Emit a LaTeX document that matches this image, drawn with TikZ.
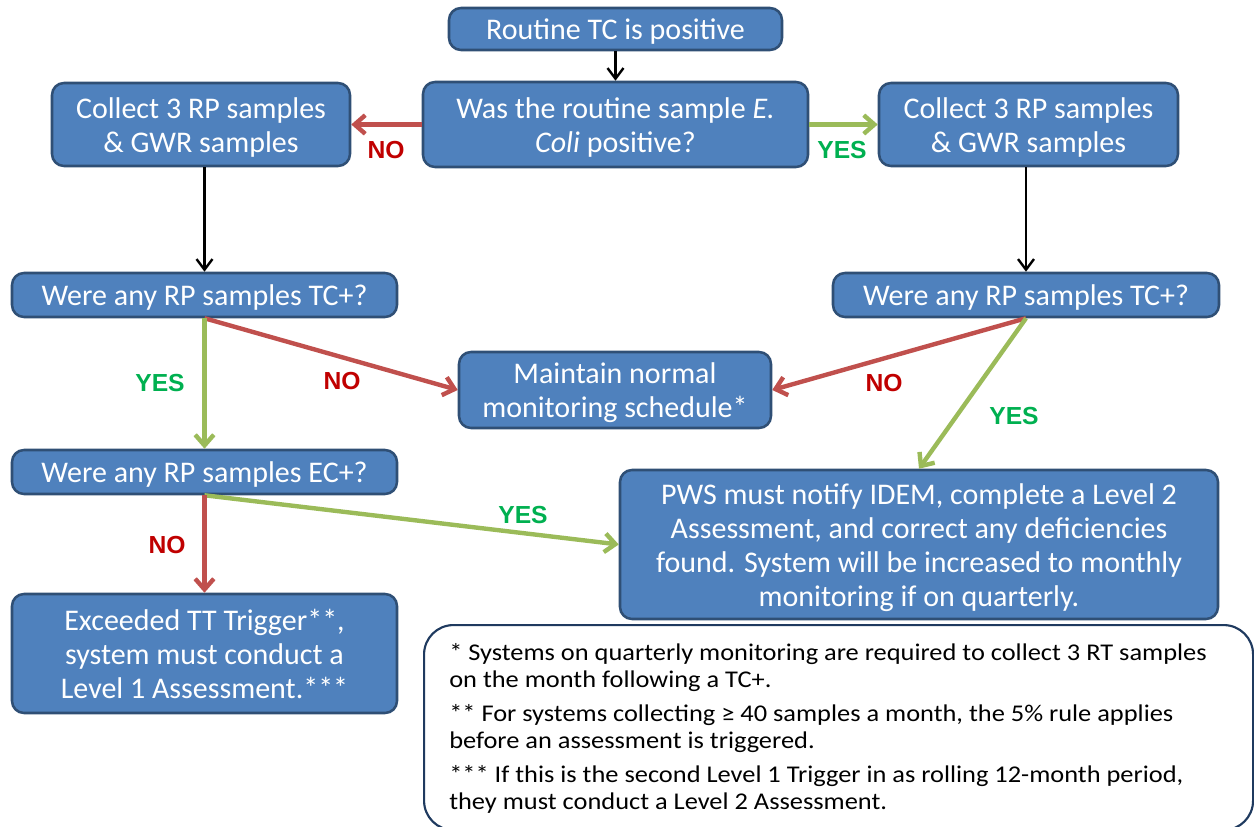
\documentclass[tikz,border=0pt]{standalone}
\usepackage{fontspec}
\setmainfont{Carlito}
\newfontfamily\labelfont{Liberation Sans}
\newfontfamily\notefont[FakeStretch=1.1]{Carlito}
\usetikzlibrary{arrows.meta}
\definecolor{boxblue}{HTML}{4F81BD}
\definecolor{boxedge}{HTML}{2F4F75}
\definecolor{noteedge}{HTML}{1F3A5F}
\definecolor{redline}{HTML}{C0504D}
\definecolor{greenline}{HTML}{9BBB59}
\definecolor{notext}{HTML}{C00000}
\definecolor{yestext}{HTML}{00B050}
\newcommand\topstrutx{\rule{0pt}{22pt}}
\newcommand\botstrutx{\rule[-5.5pt]{0pt}{5.5pt}}
\begin{document}
\begin{tikzpicture}[x=0.75pt,y=-0.75pt,
  flowbox/.style={draw=boxedge, fill=boxblue, line width=1.9pt, rounded corners=9pt,
    text=white, font=\fontsize{22.5}{25.5}\selectfont, align=center, inner sep=0pt},
  blackarrow/.style={draw=black, line width=1.8pt, -{Straight Barb[length=8pt,width=12pt]}},
  redarrow/.style={draw=redline, line width=3.3pt, -{Straight Barb[length=8pt,width=14pt]}},
  greenarrow/.style={draw=greenline, line width=3.3pt, -{Straight Barb[length=8pt,width=14pt]}},
  nolabel/.style={text=notext, font=\labelfont\bfseries\fontsize{18.5}{20}\selectfont, inner sep=0pt},
  yeslabel/.style={text=yestext, font=\labelfont\bfseries\fontsize{18.5}{20}\selectfont, inner sep=0pt},
]
\useasboundingbox (0,0) rectangle (1254,827);
\clip (0,0) rectangle (1254,827);

% boxes
\node[flowbox, minimum width=249.75pt, minimum height=31.5pt] (top) at (615.5,29) {\topstrutx Routine TC is positive\botstrutx};
\node[flowbox, minimum width=288.75pt, minimum height=63.75pt] (ecoli) at (615.5,124.5) {\topstrutx Was the routine sample \textit{E.}\\\textit{Coli} positive?\botstrutx};
\node[flowbox, minimum width=223.5pt, minimum height=62.25pt] (lcol) at (201,124.5) {\topstrutx Collect 3 RP samples\\\& GWR samples\botstrutx};
\node[flowbox, minimum width=224.25pt, minimum height=62.25pt] (rcol) at (1028.5,124.5) {\topstrutx Collect 3 RP samples\\\& GWR samples\botstrutx};
\node[flowbox, minimum width=288.75pt, minimum height=33pt] (ltc) at (204.5,295) {\topstrutx Were any RP samples TC+?\botstrutx};
\node[flowbox, minimum width=289.5pt, minimum height=33pt] (rtc) at (1026,295) {\topstrutx Were any RP samples TC+?\botstrutx};
\node[flowbox, minimum width=234pt, minimum height=57pt] (maint) at (615,390) {\topstrutx Maintain normal\\monitoring schedule*\botstrutx};
\node[flowbox, minimum width=288.75pt, minimum height=33pt] (lec) at (204.5,472) {\topstrutx Were any RP samples EC+?\botstrutx};
\node[flowbox, minimum width=448.5pt, minimum height=111.75pt] (pws) at (919,544.5) {\topstrutx PWS must notify IDEM, complete a Level 2\\Assessment, and correct any deficiencies\\found. System will be increased to monthly\\monitoring if on quarterly.\botstrutx};
\node[flowbox, minimum width=288.75pt, minimum height=89.25pt] (exc) at (204.5,653.5) {\topstrutx Exceeded TT Trigger**,\\system must conduct a\\Level 1 Assessment.***\botstrutx};

% footnote box
\node[draw=noteedge, line width=1.6pt, rounded corners=22pt, fill=white, anchor=north west,
  minimum width=621.75pt, minimum height=153.75pt, inner sep=0pt] (notes) at (423,624) {};
\node[anchor=north west, align=left, inner sep=0pt, font=\notefont\fontsize{18}{20.25}\selectfont] (notetext) at (449,643)
 {* Systems on quarterly monitoring are required to collect 3 RT samples\\
  on the month following a TC+.\\[5.25pt]
  ** For systems collecting ≥ 40 samples a month, the 5\% rule applies\\
  before an assessment is triggered.\\[5.25pt]
  *** If this is the second Level 1 Trigger in as rolling 12-month period,\\
  they must conduct a Level 2 Assessment.};

% connectors
\draw[blackarrow] (top) -- (ecoli);
\draw[redarrow] (ecoli.west) -- (lcol.east);
\draw[greenarrow] (ecoli.east) -- (rcol.west);
\draw[blackarrow] (ltc.north |- lcol.south) -- (ltc.north);
\draw[blackarrow] (rtc.north |- rcol.south) -- (rtc.north);
\draw[redarrow] (ltc.south) -- (maint.west);
\draw[greenarrow] (ltc.south) -- (lec.north);
\draw[redarrow] (rtc.south) -- (maint.east);
\draw[greenarrow] (rtc.south) -- (pws.north);
\draw[greenarrow] (lec.south) -- (pws.west);
\draw[redarrow] (lec.south) -- (exc.north);

% labels
\node[nolabel] (l1) at (386,150) {NO};
\node[yeslabel] (l2) at (842,150) {YES};
\node[yeslabel] (l3) at (160,383) {YES};
\node[nolabel] (l4) at (342,381) {NO};
\node[nolabel] (l5) at (884,383) {NO};
\node[yeslabel] (l6) at (1014,416) {YES};
\node[yeslabel] (l7) at (523,515) {YES};
\node[nolabel] (l8) at (167,545) {NO};
\end{tikzpicture}
\end{document}
